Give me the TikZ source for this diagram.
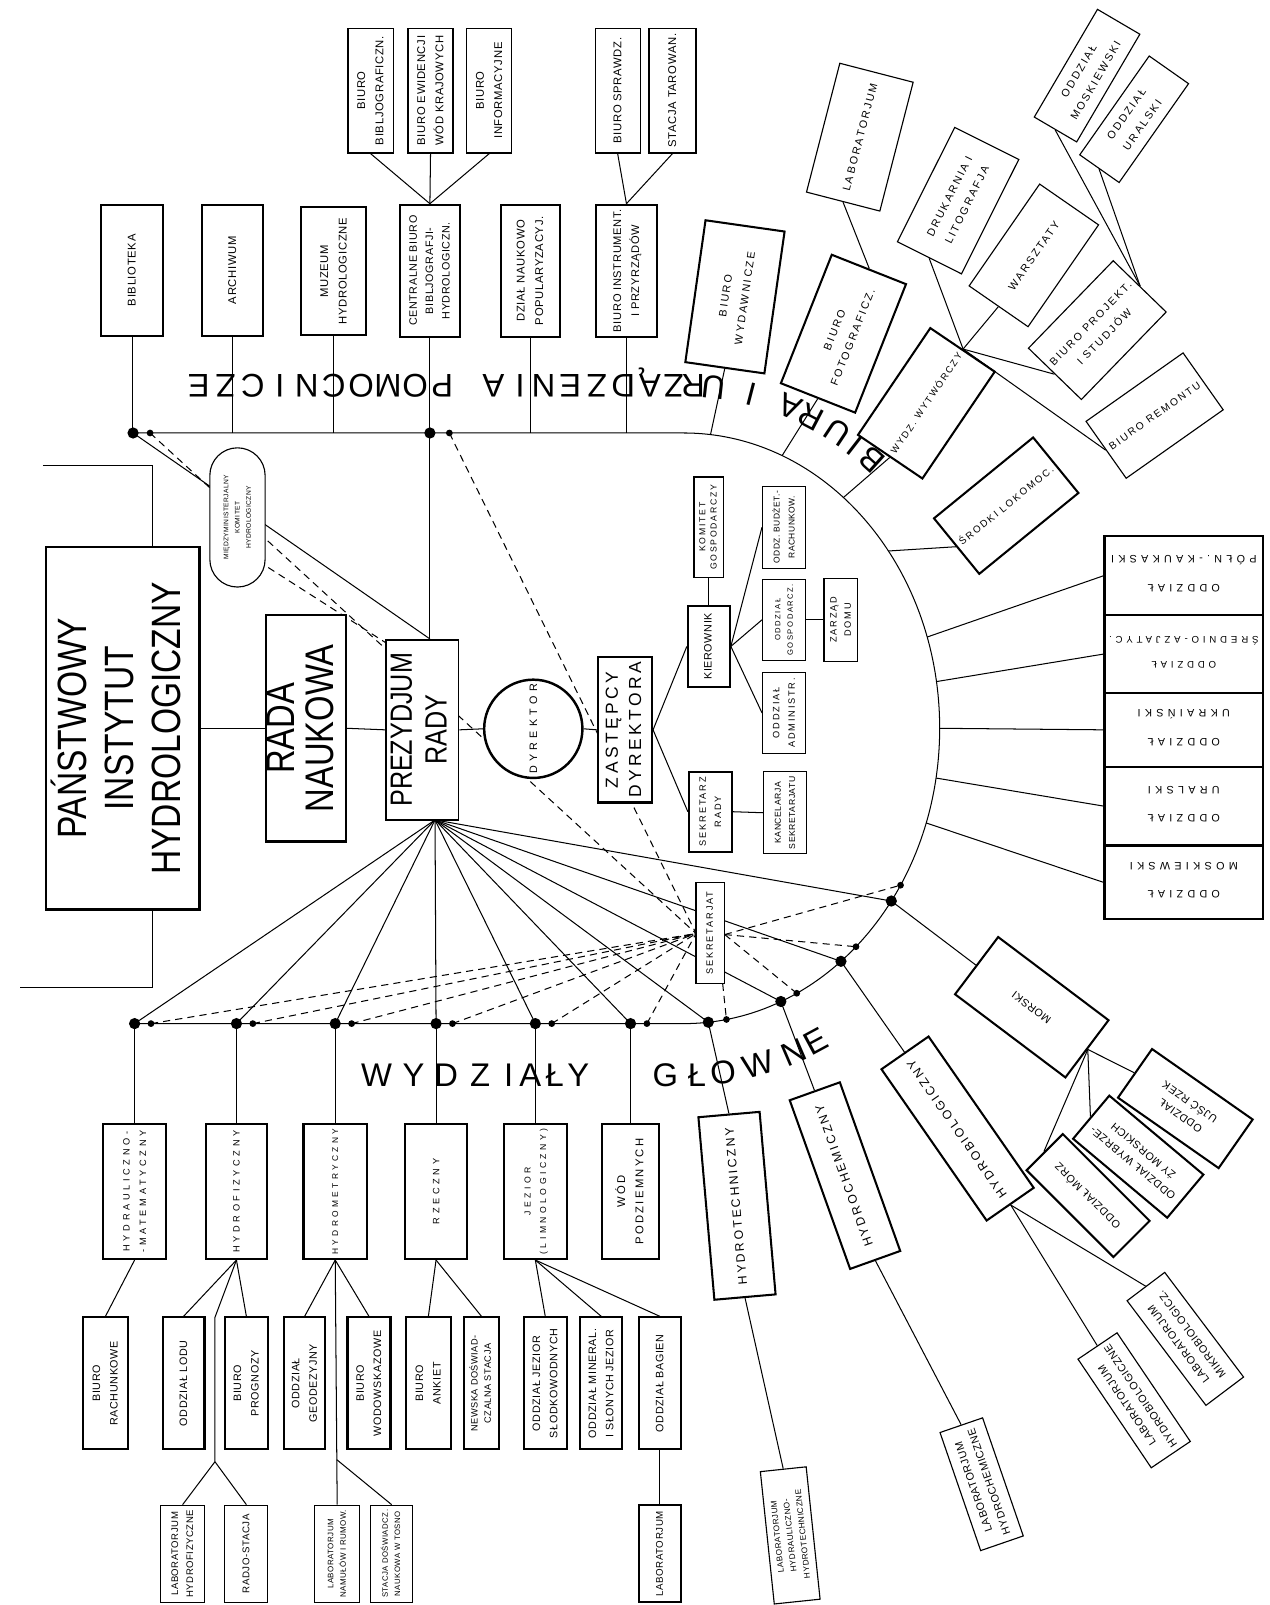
\documentclass[tikz,border=0pt]{standalone}
\usepackage{fontspec}
\usepackage{graphicx}
\setmainfont{Liberation Sans}
\newfontfamily\lfa[LetterSpace=6]{Liberation Sans}
\newfontfamily\lfm[LetterSpace=20]{Liberation Sans}
\newfontfamily\lfw[LetterSpace=40]{Liberation Sans}
\newfontfamily\lfc[FakeStretch=0.82]{Liberation Sans}
\usetikzlibrary{shapes.misc,calc,backgrounds}
\newsavebox\fitb
\newlength\fitl
\newcommand\fitto[2]{\setlength\fitl{\dimexpr#1\relax}\sbox\fitb{#2}\ifdim\wd\fitb>\fitl\resizebox{\fitl}{!}{\usebox\fitb}\else\usebox\fitb\fi}
\newcommand\tbx[1]{\begin{tabular}{@{}c@{}}#1\end{tabular}}
\newcommand\bxn[8]{\node[bx,#7,rotate=#6,minimum width=#4pt,minimum height=#5pt] (#1) at (#2,#3) {\fitto{#4pt-9pt}{\tbx{#8}}};}
\tikzset{
  bx/.style={draw,fill=white,inner sep=0pt,line width=1.1pt,font=\lfa\fontsize{11}{18}\selectfont},
  tk/.style={line width=2pt},
  ln/.style={line width=1pt},
  dsh/.style={line width=1pt,dash pattern=on 7pt off 5pt},
  bigl/.style={font=\fontsize{32}{32}\selectfont,inner sep=0pt,text height=23pt,text depth=0pt},
  sRC/.style={tk,font=\lfw\fontsize{10.5}{28}\selectfont},
  sUR/.style={font=\lfm\fontsize{10.5}{19}\selectfont},
  sBot/.style={tk,font=\lfw\fontsize{9}{16}\selectfont},
  sSec/.style={tk,font=\lfa\fontsize{10.5}{17}\selectfont},
  sThr/.style={font=\lfa\fontsize{9.5}{15}\selectfont},
  sLR/.style={font=\lfa\fontsize{10.5}{16}\selectfont},
  sLRb/.style={tk,font=\lfm\fontsize{12}{16}\selectfont},
}
\begin{document}
\begin{tikzpicture}[x=1pt,y=-1pt]
\useasboundingbox (0,0) rectangle (1240,1568);
\coordinate (C) at (668,711.5);
\foreach \n/\a in {d1/84.5,d2/67.7,d3/52.1,d4/35.8,s1/80.4,s2/63.8,s3/47.7,s4/32.1,a1/-84,a2/-67.4,a3/-51.4,a4/-36.9,r1/-18,r2/-9.1,r3/0,r4/9.7,r5/18.7}
  \coordinate (\n) at ($(C)+(\a:250 and 288.5)$);
\coordinate (T1) at (130,423);
\coordinate (T2) at (420,423);
\coordinate (t1) at (146.6,423);
\coordinate (t2) at (439,423);
\coordinate (P) at (425,801);
\coordinate (SL) at (680,912);
\coordinate (SR) at (708,913);
\coordinate (SB) at (706,961);
\foreach \n/\x in {B1/131.5,B2/231,B3/327.5,B4/426,B5/523,B6/616} \coordinate (\n) at (\x,1000);
\foreach \n/\x in {b1/147.5,b2/247,b3/343.5,b4/442,b5/539,b6/632} \coordinate (\n) at (\x,1000);

% ---------- top row ----------
\bxn{bib}{129}{264}{128}{61}{90}{tk}{BIBLIOTEKA}
\bxn{arch}{227}{264}{128}{59}{90}{tk}{ARCHIWUM}
\bxn{muz}{326}{265}{125}{63}{90}{tk}{MUZEUM\\HYDROLOGICZNE}
\bxn{cent}{420}{264.5}{129}{58}{90}{tk,font=\lfa\fontsize{10.5}{16}\selectfont}{CENTRALNE BIURO\\BIBLJOGRAFJI-\\HYDROLOGICZN.}
\bxn{dzial}{518}{264.5}{129}{58}{90}{tk}{DZIAŁ NAUKOWO\\POPULARYZACYJ.}
\bxn{instr}{612}{264.5}{129}{59}{90}{tk}{BIURO INSTRUMENT.\\I PRZYRZĄDÓW}
\bxn{bbib}{362}{88.5}{122}{44}{90}{}{BIURO\\BIBLJOGRAFICZN.}
\bxn{bew}{420.6}{88.5}{122}{44}{90}{}{BIURO EWIDENCJI\\WÓD KRAJOWYCH}
\bxn{binf}{478}{88.5}{122}{44}{90}{}{BIURO\\INFORMACYJNE}
\bxn{bspr}{603.4}{88.5}{122}{44}{90}{}{BIURO SPRAWDZ.}
\bxn{stac}{657}{88.5}{122}{46}{90}{}{STACJA TAROWAN.}

% ---------- left / centre ----------
\bxn{inst}{120}{711.5}{354}{150}{90}{tk,line width=2.4pt,font=\lfc\fontsize{40}{46}\selectfont}{PAŃSTWOWY\\INSTYTUT\\HYDROLOGICZNY}
\bxn{rada}{299}{711.5}{221}{78}{90}{tk,line width=2.4pt,font=\lfc\fontsize{39}{37}\selectfont}{RADA\\NAUKOWA}
\bxn{prez}{412.5}{713}{176}{71}{90}{line width=1.6pt,font=\lfc\fontsize{30}{34}\selectfont}{PREZYDJUM\\RADY}
\node[draw,fill=white,rounded rectangle,rotate=90,minimum width=138pt,minimum height=54pt,inner sep=1pt,line width=1.1pt,font=\lfa\fontsize{6.5}{11}\selectfont] (mkom) at (232,505.5) {\fitto{88pt}{\tbx{MIĘDZYMINISTERJALNY\\KOMITET\\HYDROLOGICZNY}}};
\node[draw,fill=white,circle,line width=2.4pt,minimum size=96pt,inner sep=0pt,font=\lfw\fontsize{10.5}{12}\selectfont] (dyr) at (521,712) {\rotatebox{90}{DYREKTOR}};
\bxn{zast}{610.5}{713}{142}{53}{90}{tk,font=\lfm\fontsize{18}{24}\selectfont}{ZASTĘPCY\\DYREKTORA}
\bxn{kier}{692.5}{631.5}{79}{41}{90}{tk,font=\lfa\fontsize{10.5}{14}\selectfont}{KIEROWNIK}
\bxn{komg}{692.5}{515}{98}{29}{90}{font=\lfm\fontsize{8.5}{11}\selectfont}{KOMITET\\GOSPODARCZY}
\bxn{budz}{766}{515}{80}{42}{90}{font=\lfa\fontsize{8.5}{15}\selectfont}{ODDZ. BUDŻET.-\\RACHUNKOW.}
\bxn{gosp}{766}{605.5}{79}{42}{90}{font=\lfm\fontsize{9}{15}\selectfont}{ODDZIAŁ\\GOSPODARCZ.}
\bxn{zarz}{821.5}{605.5}{81}{33}{90}{font=\lfm\fontsize{9}{14}\selectfont}{ZARZĄD\\DOMU}
\bxn{adm}{766}{696.5}{79}{42}{90}{font=\lfm\fontsize{9}{15}\selectfont}{ODDZIAŁ\\ADMINISTR.}
\bxn{sekr}{694}{793}{78}{42}{90}{tk,font=\lfm\fontsize{9}{15}\selectfont}{SEKRETARZ\\RADY}
\bxn{kanc}{767}{794}{80}{42}{90}{font=\lfa\fontsize{9}{15}\selectfont}{KANCELARJA\\SEKRETARJATU}
\bxn{sekj}{694}{911.5}{99}{28}{90}{font=\lfm\fontsize{9}{12}\selectfont}{SEKRETARJAT}

% ---------- right column ----------
\bxn{pk}{1156.5}{562.5}{155}{77}{180}{sRC}{ODDZIAŁ\\PÓŁN.-KAUKASKI}
\bxn{sa}{1156.5}{639}{155}{76}{180}{sRC}{ODDZIAŁ\\ŚREDNIO-AZJATYC.}
\bxn{uk}{1156.5}{713}{155}{72}{180}{sRC}{ODDZIAŁ\\UKRAIŃSKI}
\bxn{ur}{1156.5}{787.5}{155}{77}{180}{sRC}{ODDZIAŁ\\URALSKI}
\bxn{mo}{1156.5}{862}{155}{72}{180}{sRC}{ODDZIAŁ\\MOSKIEWSKI}

% ---------- upper right ----------
\bxn{lab1}{840}{134}{130}{74}{75.5}{sUR}{LABORATORJUM}
\bxn{wyd}{718}{290}{140}{78}{81.9}{sUR,tk}{BIURO\\WYDAWNICZE}
\bxn{foto}{824}{326}{135}{78}{68.4}{sUR,tk}{BIURO\\FOTOGRAFICZ.}
\bxn{druk}{936}{196}{125}{70}{63.4}{sUR}{DRUKARNIA I\\LITOGRAFJA}
\bxn{warsz}{1010}{249.5}{121}{70}{55.3}{sUR}{WARSZTATY}
\bxn{omos}{1062}{73.9}{122}{48}{59.6}{sUR}{ODDZIAŁ\\MOSKIEWSKI}
\bxn{oural}{1108}{116.5}{118}{47}{54.9}{sUR}{ODDZIAŁ\\URALSKI}
\bxn{proj}{1072}{322.5}{119}{72}{45.9}{sUR}{BIURO PROJEKT.\\I STUDJÓW}
\bxn{rem}{1128}{406}{116}{68}{35.2}{sUR}{BIURO REMONTU}
\bxn{wytw}{905}{394}{126}{76}{55.9}{sUR,tk}{WYDZ. WYTWÓRCZY}
\bxn{srod}{983}{494}{125}{70}{39.2}{sUR,tk}{ŚRODKI LOKOMOC.}

% ---------- bottom ----------
\bxn{hm}{131.5}{1164}{132}{62}{90}{sBot}{HYDRAULICZNO-\\-MATEMATYCZNY}
\bxn{hf}{231}{1164}{132}{59}{90}{sBot}{HYDROFIZYCZNY}
\bxn{hmet}{327.5}{1164}{132}{62}{90}{sBot}{HYDROMETRYCZNY}
\bxn{rz}{426}{1164}{132}{61}{90}{sBot}{RZECZNY}
\bxn{jez}{523}{1164}{132}{61}{90}{sBot}{JEZIOR\\(LIMNOLOGICZNY)}
\bxn{wod}{616}{1164}{132}{55}{90}{tk,font=\lfm\fontsize{11}{18}\selectfont}{WÓD\\PODZIEMNYCH}
\bxn{brach}{103}{1351.5}{129}{44}{90}{sSec}{BIURO\\RACHUNKOWE}
\bxn{olod}{179.3}{1351.5}{129}{41}{90}{sSec}{ODDZIAŁ LODU}
\bxn{bprog}{240.7}{1351.5}{129}{42}{90}{sSec}{BIURO\\PROGNOZY}
\bxn{ogeo}{297.6}{1351.5}{129}{40}{90}{sSec}{ODDZIAŁ\\GEODEZYJNY}
\bxn{bwod}{360.5}{1351.5}{129}{42}{90}{sSec}{BIURO\\WODOWSKAZOWE}
\bxn{bank}{418.5}{1351.5}{129}{44}{90}{sSec}{BIURO\\ANKIET}
\bxn{news}{470.4}{1351.5}{129}{34}{90}{tk,font=\lfa\fontsize{9}{13}\selectfont}{NEWSKA DOŚWIAD-\\CZALNA STACJA}
\bxn{ojs}{532.7}{1351.5}{129}{42}{90}{sSec}{ODDZIAŁ JEZIOR\\SŁODKOWODNYCH}
\bxn{omin}{587.4}{1351.5}{129}{41}{90}{sSec}{ODDZIAŁ MINERAL.\\I SŁONYCH JEZIOR}
\bxn{obag}{644.7}{1351.5}{129}{41}{90}{sSec}{ODDZIAŁ BAGIEN}
\bxn{lhf}{178.4}{1518}{95}{43}{90}{sThr}{LABORATORJUM\\HYDROFIZYCZNE}
\bxn{radj}{240.7}{1518}{95}{42}{90}{sThr}{RADJO-STACJA}
\bxn{lnam}{329.4}{1518}{95}{44}{90}{sThr}{LABORATORJUM\\NAMUŁÓW I RUMOW.}
\bxn{stdo}{382.6}{1518}{95}{41}{90}{sThr}{STACJA DOŚWIADCZ.\\NAUKOWA W TOSNO}
\bxn{llab}{644.7}{1518}{95}{41}{90}{sThr,tk}{LABORATORJUM}

% ---------- lower right ----------
\bxn{htech}{720}{1178}{179}{60}{95}{sLRb}{HYDROTECHNICZNY}
\bxn{lhh}{772}{1500}{130}{45}{96}{font=\lfa\fontsize{8}{12.5}\selectfont}{LABORATORJUM\\HYDRAULICZNO-\\HYDROTECHNICZNE}
\bxn{hchem}{825.5}{1148.5}{175}{52}{109.7}{sLRb}{HYDROCHEMICZNY}
\bxn{lhch}{959}{1450}{122}{44}{109}{sLR}{LABORATORJUM\\HYDROCHEMICZNE}
\bxn{hbio}{935.5}{1102.5}{180}{56}{124.8}{sLRb}{HYDROBIOLOGICZNY}
\bxn{lhb}{1108}{1368}{128}{46}{124}{sLR}{LABORATORJUM\\HYDROBIOLOGICZNE}
\bxn{lmik}{1158}{1308}{128}{46}{127}{sLR}{LABORATORJUM\\MIKROBIOLOGICZ.}
\bxn{mors}{1008}{984}{135}{70}{143}{sLR,tk}{MORSKI}
\bxn{ujsc}{1158}{1083}{120}{58}{145}{sLR,tk}{ODDZIAŁ\\UJŚĆ RZEK}
\bxn{wybr}{1112}{1130}{120}{55}{140}{sLR,tk}{ODDZIAŁ WYBRZE-\\ŻY MORSKICH}
\bxn{morz}{1063}{1168}{120}{50}{135}{sLR,tk}{ODDZIAŁ MÓRZ}

% ---------- lettering ----------
\foreach \x/\l in {432/P,405.6/O,379.1/M,352.7/O,326.2/C,299.8/N,273.3/I,246.9/C,220.4/Z,194/E,677/R,658/Z,635/Ą,609/D,583/Z,557/E,531/N,508/I,482/A}
  \node[bigl,rotate=180] at (\x,377) {\l};
\foreach \t/\l in {-84.4/U,-77.1/I,-69.6/A,-65.2/R,-59.6/U,-55.6/I,-51.6/B}
  \node[bigl,rotate={atan2(334.5*cos(\t),296*sin(\t))}] at ($(C)+(\t:296 and 334.5)$) {\l};
\foreach \x/\l in {368/W,404/Y,436/D,469/Z,497/I,518/A,542/Ł,565/Y,650/G,681/Ł}
  \node[bigl] at (\x,1050) {\l};
\foreach \t/\l in {82.5/O,75.9/W,69.1/N,64.5/E}
  \node[bigl,rotate={atan2(338.5*cos(\t),300*sin(\t))}] at ($(C)+(\t:300 and 338.5)$) {\l};

% ---------- connectors ----------
\begin{pgfonlayer}{background}
\fill[white] (0,0) rectangle (1240,1568);
\draw[ln] (T1) -- (668,423) arc[start angle=-90,end angle=90,x radius=250,y radius=288.5] -- (B1);
\foreach \n in {bib,arch,muz,cent,dzial,instr} \draw[ln] (\n.west) -- (\n.west |- T1);
\draw[ln] (bbib.west) -- (cent.east);
\draw[ln] (bew.west) -- (cent.east);
\draw[ln] (binf.west) -- (cent.east);
\draw[ln] (bspr.west) -- (instr.east);
\draw[ln] (stac.west) -- (instr.east);
\draw[ln] (42,455) -- (149,455) -- (149,534.5);
\draw[ln] (149,888.5) -- (149,965) -- (20,965);
\draw[ln] (inst.south) -- (rada.north);
\draw[ln] (rada.south) -- (prez.north);
\draw[ln] (prez.south) -- (dyr.west);
\draw[ln] (dyr.east) -- (zast.north);
\draw[ln] (T2) -- (T2 |- prez.east);
\draw[ln] (T1) -- (T2 |- prez.east);
\draw[ln] (zast.south) -- (kier.north);
\draw[ln] (zast.south) -- (sekr.north);
\draw[ln] (kier.east) -- (komg.west);
\draw[ln] (kier.south) -- (budz.north);
\draw[ln] (kier.south) -- (gosp.north);
\draw[ln] (kier.south) -- (adm.north);
\draw[ln] (gosp.south) -- (zarz.north);
\draw[ln] (sekr.south) -- (kanc.north);
\foreach \n in {B1,B2,B3,B4,B5,B6,d1,d2,d3,d4} \draw[ln] (P) -- (\n);
\foreach \n in {hm,hf,hmet,rz,jez,wod} \draw[ln] (\n.east) -- (\n.east |- B1);
\draw[ln] (hm.west) -- (brach.east);
\draw[ln] (hf.west) -- (olod.east);
\draw[ln] (hf.west) -- (bprog.east);
\draw[ln] (hf.west) -- (210,1287) -- (210,1428) coordinate (hfb) -- (lhf.east);
\draw[ln] (hfb) -- (radj.east);
\draw[ln] (hmet.west) -- (ogeo.east);
\draw[ln] (hmet.west) -- (bwod.east);
\draw[ln] (hmet.west) -- (lnam.east);
\draw[ln] (329,1426) -- (stdo.east);
\draw[ln] (rz.west) -- (bank.east);
\draw[ln] (rz.west) -- (news.east);
\draw[ln] (jez.west) -- (ojs.east);
\draw[ln] (jez.west) -- (omin.east);
\draw[ln] (jez.west) -- (obag.east);
\draw[ln] (obag.west) -- (llab.east);
\draw[ln] (d1) -- (htech.east);
\draw[ln] (htech.west) -- (lhh.east);
\draw[ln] (d2) -- (hchem.east);
\draw[ln] (hchem.west) -- (lhch.east);
\draw[ln] (d3) -- (hbio.east);
\draw[ln] (hbio.west) -- (lhb.east);
\draw[ln] (hbio.west) -- (lmik.east);
\draw[ln] (d4) -- (mors.east);
\draw[ln] (mors.west) -- (ujsc.east);
\draw[ln] (mors.west) -- (wybr.east);
\draw[ln] (mors.west) -- (morz.east);
\draw[ln] (a1) -- (wyd.west);
\draw[ln] (a2) -- (foto.west);
\draw[ln] (a3) -- (wytw.west);
\draw[ln] (a4) -- (srod.west);
\draw[ln] (lab1.west) -- (foto.east);
\draw[ln] (wytw.east) -- (druk.west);
\draw[ln] (wytw.east) -- (warsz.west);
\draw[ln] (wytw.east) -- (proj.west);
\draw[ln] (wytw.east) -- (rem.west);
\draw[ln] (omos.west) -- (proj.east);
\draw[ln] (oural.west) -- (proj.east);
\draw[ln] (r1) -- (pk.east);
\draw[ln] (r2) -- (sa.east);
\draw[ln] (r3) -- (uk.east);
\draw[ln] (r4) -- (ur.east);
\draw[ln] (r5) -- (mo.east);
% dashed
\draw[dsh] (t1) -- (SL);
\draw[dsh] (t2) -- (SL);
\draw[dsh] (252,548) -- (377,628);
\foreach \n in {b1,b2,b3,b4,b5,b6} \draw[dsh] (\n) -- (SL);
\draw[dsh] (SR) -- (s2);
\draw[dsh] (SR) -- (s3);
\draw[dsh] (SR) -- (s4);
\draw[dsh] (SB) -- (s1);
\end{pgfonlayer}

% ---------- dots ----------
\foreach \n in {T1,T2,B1,B2,B3,B4,B5,B6,d1,d2,d3,d4} \fill (\n) circle[radius=5.5];
\foreach \n in {t1,t2,b1,b2,b3,b4,b5,b6,s1,s2,s3,s4} \fill (\n) circle[radius=3.3];
\end{tikzpicture}
\end{document}
